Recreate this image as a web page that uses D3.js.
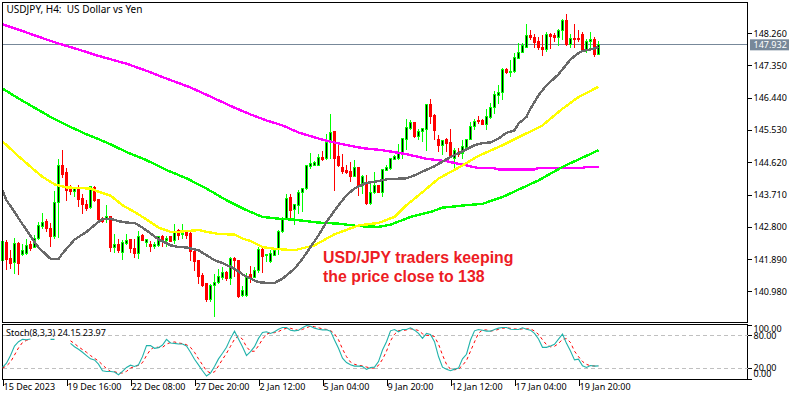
<!DOCTYPE html>
<html>
<head>
<meta charset="utf-8">
<script src="https://cdn.jsdelivr.net/npm/d3@7"></script>
<style>
body { margin: 0; background: #fff; }
svg { display: block; }
text { font-family: "Noto Sans", sans-serif; font-size: 9px; fill: #000; white-space: pre; }
</style>
</head>
<body>
<div id="chart"></div>
<script>
// candles, one entry per H4 bar
var opens = [141.86,142.37,141.92,141.79,142.33,142.03,142.05,142.29,142.22,142.47,
142.80,142.94,142.76,142.54,143.49,144.54,144.32,143.91,143.79,143.88,
143.61,143.44,143.34,143.91,143.57,143.04,143.02,143.08,142.23,142.29,
142.08,142.32,142.43,142.20,142.04,142.55,142.35,142.31,142.24,142.28,
142.54,142.41,142.52,142.41,142.71,142.59,142.63,142.60,142.11,141.86,
141.43,141.19,140.74,141.15,141.22,141.37,141.52,141.35,141.92,141.86,
140.87,140.86,141.47,141.37,141.56,142.17,141.99,141.81,142.00,142.16,
142.66,143.00,143.62,143.28,143.41,143.78,143.88,144.51,144.54,144.53,
144.75,144.72,145.24,145.48,144.77,144.46,144.40,144.37,144.22,144.47,
144.02,143.99,143.45,143.78,143.97,143.78,144.39,144.44,144.70,144.74,
144.86,145.26,145.57,145.74,145.35,145.48,145.54,146.26,145.94,145.27,
145.10,145.27,145.17,144.72,144.91,144.86,145.03,145.26,145.64,145.79,
145.79,145.69,145.88,146.16,146.51,146.60,147.24,147.18,147.17,147.54,
147.71,147.86,148.20,148.13,148.02,147.87,147.81,148.23,148.20,148.14,
148.33,148.63,147.95,148.11,148.11,148.22,147.80,148.02,148.08,147.66];
var closes = [142.38,141.88,141.78,142.33,141.77,142.14,142.28,142.20,142.47,142.85,
142.92,142.76,142.54,143.49,144.54,144.29,143.82,143.80,143.88,143.58,
143.42,143.32,143.93,143.55,143.02,142.94,143.08,142.23,142.29,142.12,
142.37,142.42,142.18,142.04,142.53,142.41,142.43,142.26,142.30,142.52,
142.38,142.48,142.39,142.63,142.57,142.61,142.56,142.10,141.82,141.41,
141.16,140.74,141.14,141.22,141.39,141.52,141.33,141.91,141.84,140.85,
141.01,141.41,141.37,141.58,142.16,141.97,142.01,142.04,142.12,142.66,
143.03,143.60,143.27,143.43,143.78,143.88,144.53,144.58,144.61,144.75,
144.70,145.17,145.46,144.72,144.53,144.37,144.34,144.23,144.47,143.94,
144.21,143.45,143.78,143.97,143.78,144.41,144.47,144.72,144.79,144.86,
145.29,145.60,145.74,145.35,145.50,145.57,146.26,145.92,145.52,145.10,
145.24,145.15,144.79,144.96,144.85,145.07,145.26,145.64,145.76,145.76,
145.69,145.90,146.16,146.53,146.60,147.24,147.14,147.19,147.57,147.71,
147.92,148.20,148.13,148.00,147.85,147.81,148.22,148.18,148.14,148.34,
148.63,147.95,148.11,148.09,148.08,147.81,148.02,148.08,147.66,147.93];
var highs = [142.38,142.43,142.16,142.48,142.38,142.31,142.47,142.41,142.56,142.94,
143.20,143.03,142.90,143.82,144.71,144.96,144.46,143.98,143.93,143.98,
143.74,143.55,143.96,143.95,143.58,143.08,143.41,143.11,142.61,142.47,
142.43,142.60,142.47,142.47,142.68,142.60,142.47,142.41,142.37,142.55,
142.56,142.54,142.54,142.88,142.74,142.88,142.68,142.71,142.14,141.86,
141.49,141.20,141.20,141.46,141.61,141.67,141.55,141.94,141.96,141.86,
141.14,141.49,141.69,141.67,142.24,142.19,142.03,142.16,142.16,142.70,
143.08,143.74,143.74,143.45,143.83,143.90,144.53,144.88,144.66,144.86,
144.93,145.43,145.97,145.48,145.19,144.84,144.53,144.63,144.69,144.47,
144.25,144.25,144.07,144.35,143.99,144.44,144.53,144.72,144.82,145.15,
145.31,145.85,145.82,145.76,145.57,145.59,146.26,146.40,145.99,145.40,
145.26,145.31,145.57,145.01,145.01,145.24,145.29,145.76,145.85,145.93,
145.85,146.13,146.29,146.63,146.79,147.28,147.28,147.50,147.69,147.97,
147.97,148.51,148.36,148.25,148.16,148.22,148.28,148.27,148.27,148.37,
148.65,148.80,148.25,148.51,148.36,148.28,148.11,148.28,148.14,148.03];
var lows = [141.86,141.58,141.61,141.47,141.44,141.99,142.01,142.11,142.20,142.44,
142.73,142.66,142.23,142.45,142.48,144.17,143.53,143.71,143.65,143.37,
143.16,143.25,143.30,143.49,142.90,142.90,142.90,142.09,142.07,142.07,
141.87,142.29,142.05,141.92,141.90,142.39,142.24,142.10,142.18,142.22,
142.22,142.24,142.37,142.33,142.44,142.47,142.47,141.84,141.55,141.18,
141.11,140.69,140.67,140.26,141.19,141.30,141.28,141.16,141.39,140.80,
140.83,140.83,141.23,141.35,141.50,141.50,141.81,141.78,142.00,142.00,
142.63,142.98,143.06,142.84,143.17,143.22,143.85,144.44,144.51,144.51,
144.66,144.69,144.72,143.80,144.49,144.30,144.30,144.07,144.21,143.67,
143.74,143.43,143.41,143.74,143.75,143.64,144.38,144.39,144.68,144.69,
144.72,144.96,145.54,145.31,145.26,145.19,144.93,145.71,145.24,144.91,
144.82,144.91,144.77,144.38,144.77,144.72,145.01,145.24,145.52,145.71,
145.66,145.54,145.85,145.99,146.26,146.37,147.10,147.03,147.14,147.52,
147.69,147.83,148.06,147.85,147.80,147.61,147.73,147.81,148.01,147.90,
148.06,147.90,147.83,147.85,148.01,147.76,147.71,147.78,147.59,147.64];

// moving averages, read at the bars where the line changes direction
var grayBars = [0,1,3,4,6,8,9,12,14,15,18,21,24,25,27,29,31,33,35,39,42,44,46,49,51,53,55,58,60,62,64,66,68,70,73,75,77,79,81,84,86,88,91,93,96,101,103,106,108,112,115,118,120,122,124,126,128,129,131,132,134,136,139,142,144,145,147,149];
var grayPrices = [143.82,143.55,143.22,143.04,142.71,142.37,142.22,141.90,141.89,142.05,142.44,142.66,142.94,143.02,143.03,142.96,142.92,142.91,142.78,142.45,142.28,142.23,142.22,142.14,142.00,141.86,141.78,141.62,141.46,141.34,141.24,141.22,141.22,141.34,141.62,141.90,142.23,142.56,142.94,143.41,143.69,143.88,144.04,144.07,144.14,144.17,144.25,144.41,144.51,144.77,144.93,145.10,145.16,145.18,145.29,145.45,145.52,145.71,145.90,146.13,146.51,146.79,147.10,147.52,147.70,147.76,147.80,147.87];
var yellowBars = [0,4,8,10,13,16,22,24,27,30,33,36,39,42,44,49,51,54,58,60,62,65,68,73,78,83,89,94,98,101,105,109,115,119,125,130,135,140,144,149];
var yellowPrices = [145.21,144.79,144.40,144.21,144.00,143.91,143.88,143.79,143.68,143.41,143.22,143.01,142.78,142.66,142.66,142.71,142.66,142.60,142.58,142.47,142.40,142.23,142.18,142.14,142.28,142.59,142.84,142.91,143.08,143.41,143.78,144.16,144.53,144.80,145.10,145.38,145.66,146.13,146.46,146.75];
var greenBars = [0,4,8,12,16,21,26,31,36,41,46,51,56,61,65,69,73,79,84,89,94,97,102,107,110,115,120,125,129,134,140,144,149];
var greenPrices = [146.70,146.42,146.16,145.90,145.67,145.41,145.18,144.91,144.68,144.40,144.17,143.88,143.55,143.27,143.08,143.03,143.00,142.92,142.89,142.82,142.80,142.86,143.08,143.22,143.34,143.40,143.45,143.64,143.85,144.11,144.49,144.70,144.96];
var magentaBars = [0,4,9,14,19,24,31,36,41,47,53,58,62,66,70,74,79,84,90,95,101,106,111,116,119,123,124,133,134,145,146,149];
var magentaPrices = [148.51,148.36,148.16,147.97,147.80,147.62,147.40,147.20,146.98,146.73,146.42,146.16,145.97,145.80,145.66,145.46,145.29,145.15,145.02,144.96,144.85,144.72,144.65,144.53,144.46,144.45,144.42,144.42,144.46,144.46,144.49,144.49];

// stochastic, null where the panel label hides the line
var stochMain = [21.2,29,43,60.5,68.4,72.7,72,73.3,null,null,null,null,72.7,72.7,null,null,null,65.4,59.3,54.5,
49,43,37,35,27.2,15.1,13.9,13.9,12.7,7.8,13.9,21.2,25.4,23,26,41,61.2,61.2,56.3,57.5,
62.4,72.7,66,65.4,64.2,64.2,60.5,49,36.3,26,15.1,5.4,10.8,23,36.9,47.2,58.1,74.5,87.8,73.3,
59.3,43,50.2,59.3,74.5,85.4,86.6,83.6,86.6,91.4,94.5,94.5,89.6,88.4,89.6,93.9,98.1,96.9,93.3,91.4,
90.2,90.2,87.8,71.5,56.3,38.1,30.2,26,23.6,23.6,23,17.5,21.2,21.8,32,53.3,68.4,88.4,90.8,86.6,
90.8,90.8,93.9,89.6,83.6,74.5,83.6,81.8,68.4,41.2,21.8,18.1,15.1,18.1,19.9,36.9,45.4,71.5,88.4,90.8,
89.6,87.8,87.8,90.8,93.3,94.5,94.5,91.4,90.8,90.8,93.9,91.4,89.6,83.6,73.3,58.1,58.1,60.5,63.6,73.3,
82.4,65.4,51.4,35.1,36.3,24.2,21.2,24.8,23.6,24.15];
var stochSignal = [20,24,31,44,57,67,71,73,null,null,null,null,null,null,null,null,null,70,65,59,
54,49,43,38,33,26,19,14,13.5,11,11,14,20,23,25,30,43,54,59,58,
58,64,67,68,66,65,63,58,49,37,26,15,11,13,24,36,47,60,73,79,
73,59,51,51,61,73,82,85,85,87,91,93,93,91,89,91,94,97,96,94,
92,91,89,83,72,55,41,31,27,25,24,22,20,20,25,36,51,70,82,89,
89,90,92,91,89,83,80,80,78,64,44,27,18,17,18,25,34,51,68,84,
90,90,88,89,91,93,94,93,92,91,92,92,92,88,82,72,63,59,60,65,
73,74,67,51,41,32,27,24,24,23.97];

var priceTicks = [148.26,147.35,146.44,145.53,144.62,143.71,142.80,141.89,140.98];
var stochTicks = [100,80,20,0];
var stochLevels = [80,20];
var timeBars = [0,16,32,48,64,80,96,112,128,144];
var timeLabels = ["15 Dec 2023","19 Dec 16:00","22 Dec 08:00","27 Dec 20:00","2 Jan 12:00","5 Jan 04:00","9 Jan 20:00","12 Jan 12:00","17 Jan 04:00","19 Jan 20:00"];
var lastPrice = 147.932;

var svgWidth = 800;
var svgHeight = 400;
var plotLeft = 2.5;
var plotRight = 747.5;

var svg = d3.select("#chart").append("svg").attr("width", svgWidth).attr("height", svgHeight);

var x = d3.scaleLinear().domain([0, 149]).range([2.5, 598.5]);
var y = d3.scaleLinear().domain([140.98, 148.26]).range([291.4, 33.2]);
var yStoch = d3.scaleLinear().domain([0, 100]).range([379, 324.5]);

// price line sits under the candles
svg.append("line")
    .attr("x1", plotLeft).attr("x2", plotRight)
    .attr("y1", y(lastPrice)).attr("y2", y(lastPrice))
    .attr("stroke", "#778899").attr("shape-rendering", "crispEdges");

var candles = svg.append("g").attr("shape-rendering", "crispEdges");
opens.forEach(function (o, i) {
    var up = closes[i] >= o;
    var col = up ? "#00ff00" : "#ff0000";
    candles.append("line")
        .attr("x1", x(i)).attr("x2", x(i))
        .attr("y1", y(highs[i])).attr("y2", y(lows[i]))
        .attr("stroke", col);
    candles.append("rect")
        .attr("x", x(i) - 1).attr("width", 2)
        .attr("y", y(Math.max(o, closes[i])))
        .attr("height", Math.max(1, Math.abs(y(o) - y(closes[i]))))
        .attr("fill", up ? "#000" : "#ff0000")
        .attr("stroke", col);
});

var maLine = d3.line();
function drawMa(bars, prices, col) {
    svg.append("path")
        .attr("d", maLine(bars.map(function (b, i) { return [x(b), y(prices[i])]; })))
        .attr("fill", "none").attr("stroke", col).attr("stroke-width", 2.4)
        .attr("shape-rendering", "crispEdges");
}
drawMa(magentaBars, magentaPrices, "#ff00ff");
drawMa(greenBars, greenPrices, "#00ff00");
drawMa(yellowBars, yellowPrices, "#ffff00");
drawMa(grayBars, grayPrices, "#696969");

// panel frames
svg.append("rect").attr("x", plotLeft).attr("y", 2.5)
    .attr("width", plotRight - plotLeft).attr("height", 319.5)
    .attr("fill", "none").attr("stroke", "#000").attr("shape-rendering", "crispEdges");
svg.append("rect").attr("x", plotLeft).attr("y", 324.5)
    .attr("width", plotRight - plotLeft).attr("height", 54.5)
    .attr("fill", "none").attr("stroke", "#000").attr("shape-rendering", "crispEdges");

// stochastic panel
stochLevels.forEach(function (v) {
    svg.append("line")
        .attr("x1", plotLeft).attr("x2", plotRight)
        .attr("y1", yStoch(v)).attr("y2", yStoch(v))
        .attr("stroke", "#c0c0c0").attr("stroke-dasharray", "4 3")
        .attr("shape-rendering", "crispEdges");
});
var stochLine = d3.line()
    .defined(function (d) { return d != null; })
    .x(function (d, i) { return x(i); })
    .y(function (d) { return yStoch(d); });
svg.append("path").attr("d", stochLine(stochSignal))
    .attr("fill", "none").attr("stroke", "#ff0000").attr("stroke-dasharray", "3 3");
svg.append("path").attr("d", stochLine(stochMain))
    .attr("fill", "none").attr("stroke", "#20b2aa").attr("stroke-width", 1.1);

// axes
var priceAxis = d3.axisRight(y).tickValues(priceTicks).tickSize(4).tickPadding(2)
    .tickFormat(d3.format(".3f"));
var gPrice = svg.append("g").attr("transform", "translate(" + plotRight + ",0)").call(priceAxis);
gPrice.select(".domain").remove();

var stochAxis = d3.axisRight(yStoch).tickValues(stochTicks).tickSize(4).tickPadding(2)
    .tickFormat(d3.format(".2f"));
var gStoch = svg.append("g").attr("transform", "translate(" + plotRight + ",0)").call(stochAxis);
gStoch.select(".domain").remove();
gStoch.selectAll("text").attr("dy", function (d) {
    if (d == 100) return "0.8em";
    if (d == 0) return "-0.3em";
    return "0.32em";
});

var timeAxis = d3.axisBottom(x).tickValues(timeBars).tickSize(7).tickPadding(-2)
    .tickFormat(function (d, i) { return timeLabels[i]; });
var gTime = svg.append("g").attr("transform", "translate(0,379)").call(timeAxis);
gTime.select(".domain").remove();
gTime.selectAll("text").attr("text-anchor", "start").attr("dx", 0.5);

svg.selectAll(".tick line").attr("shape-rendering", "crispEdges");

// current price tag
svg.append("rect").attr("x", 750).attr("y", y(lastPrice) - 5.5)
    .attr("width", 39).attr("height", 11).attr("fill", "#778899");
svg.append("text").attr("x", 753.5).attr("y", y(lastPrice) + 3.5)
    .style("fill", "#fff").text(lastPrice.toFixed(3));

svg.append("text").attr("x", 6.5).attr("y", 13).style("font-size", "10px").text("USDJPY, H4:  US Dollar vs Yen");
svg.append("text").attr("x", 6).attr("y", 336).text("Stoch(8,3,3) 24.15 23.97");

var note = svg.append("g").style("font-weight", "bold");
note.append("text").attr("x", 323).attr("y", 263).text("USD/JPY traders keeping");
note.append("text").attr("x", 323).attr("y", 282).text("the price close to 138");
note.selectAll("text")
    .style("font-family", "'Liberation Sans', sans-serif")
    .style("font-size", "15.9px")
    .style("fill", "#ed1c24");
</script>
</body>
</html>
